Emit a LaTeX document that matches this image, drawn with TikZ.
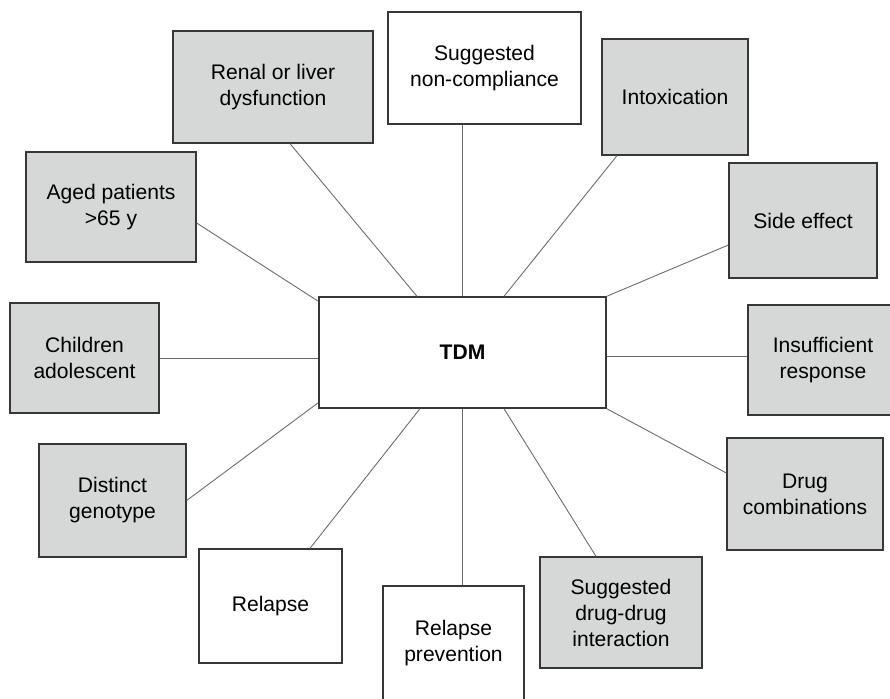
\documentclass[tikz,border=0pt]{standalone}
\usepackage{fontspec}
\setmainfont{Liberation Sans}
\definecolor{boxgray}{RGB}{214,215,215}
\definecolor{edgegray}{RGB}{55,55,55}
\definecolor{linegray}{RGB}{105,105,105}

\begin{document}
\begin{tikzpicture}[
  box/.style={draw=edgegray,line width=0.75pt,fill=white,align=center,inner sep=0pt,
    font=\fontsize{12}{14.8}\selectfont},
  gbox/.style={box,fill=boxgray},
  link/.style={draw=linegray,line width=0.5pt}]
\useasboundingbox (0,0) rectangle (17.8,13.96);
\node[box,minimum width=5.74cm,minimum height=2.22cm,font=\fontsize{12}{14.8}\selectfont\bfseries] (tdm) at (9.25,6.91) {TDM};
\node[gbox,minimum width=4cm,minimum height=2.24cm] (ren) at (5.46,12.22) {Renal or liver\\dysfunction};
\node[box,minimum width=3.86cm,minimum height=2.24cm] (nc) at (9.69,12.6) {Suggested\\non-compliance};
\node[gbox,minimum width=2.92cm,minimum height=2.32cm] (intox) at (13.5,12.02) {Intoxication};
\node[gbox,minimum width=2.96cm,minimum height=2.3cm] (side) at (16.06,9.55) {Side effect};
\node[gbox,minimum width=3cm,minimum height=2.2cm] (ins) at (16.46,6.76) {Insufficient\\response};
\node[gbox,minimum width=3.12cm,minimum height=2.24cm] (comb) at (16.1,4.08) {Drug\\combinations};
\node[gbox,minimum width=3.24cm,minimum height=2.22cm] (dd) at (12.42,1.71) {Suggested\\drug-drug\\interaction};
\node[box,minimum width=2.82cm,minimum height=2.28cm] (rp) at (9.07,1.1) {Relapse\\prevention};
\node[box,minimum width=2.86cm,minimum height=2.28cm] (rel) at (5.41,1.84) {Relapse};
\node[gbox,minimum width=2.94cm,minimum height=2.26cm] (dis) at (2.25,3.95) {Distinct\\genotype};
\node[gbox,minimum width=2.98cm,minimum height=2.2cm] (chi) at (1.69,6.8) {Children\\adolescent};
\node[gbox,minimum width=3.4cm,minimum height=2.2cm] (aged) at (2.22,9.82) {Aged patients\\>65 y};
% connectors
\draw[link] ([xshift=0.34cm]ren.south) -- ([xshift=-0.91cm]tdm.north);
\draw[link] (nc.south -| tdm.north) -- (tdm.north);
\draw[link] ([xshift=-1.16cm]intox.south) -- ([xshift=0.83cm]tdm.north);
\draw[link] ([yshift=-0.49cm]side.west) -- (tdm.north east);
\draw[link] ([yshift=-0.07cm]tdm.east) -- ([yshift=-0.07cm]tdm.east -| ins.west);
\draw[link] ([yshift=0.42cm]comb.west) -- (tdm.south east);
\draw[link] ([xshift=-0.5cm]dd.north) -- ([xshift=0.83cm]tdm.south);
\draw[link] (tdm.south) -- (tdm.south |- rp.north);
\draw[link] ([xshift=0.79cm]rel.north) -- ([xshift=-0.85cm]tdm.south);
\draw[link] (dis.east) -- ([yshift=0.12cm]tdm.south west);
\draw[link] (chi.east) -- (chi.east -| tdm.west);
\draw[link] ([yshift=-0.32cm]aged.east) -- ([yshift=-0.1cm]tdm.north west);
\end{tikzpicture}
\end{document}
